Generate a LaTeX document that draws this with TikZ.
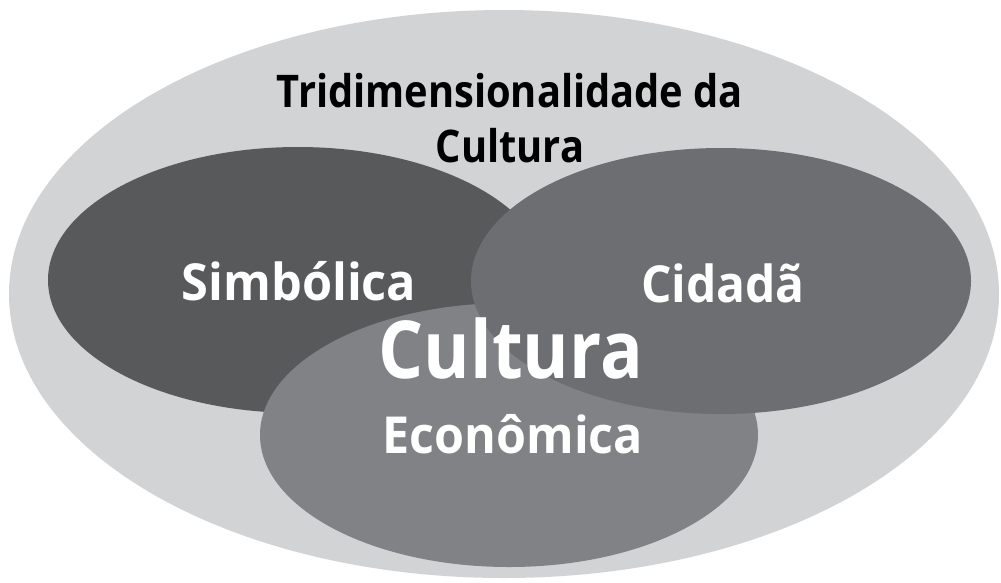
\documentclass[tikz,border=0pt]{standalone}
\usepackage{fontspec}
\setmainfont{Open Sans}
\definecolor{outergray}{HTML}{D1D3D4}
\definecolor{simbgray}{HTML}{58595B}
\definecolor{cidgray}{HTML}{6D6E71}
\definecolor{ecogray}{HTML}{808285}
\newcommand{\hsq}[2]{\scalebox{#1}[1]{#2}}
\begin{document}
\begin{tikzpicture}[x=1pt,y=-1pt,
  lbl/.style={inner sep=0pt, anchor=base, font=\bfseries\fontsize{51}{60}\selectfont, text=white},
  ttl/.style={inner sep=0pt, anchor=base, font=\bfseries\fontsize{45}{55}\selectfont, text=black}]
\useasboundingbox (0,0) rectangle (1001,582);
\fill[outergray] (504,294) ellipse [x radius=495, y radius=284];
\fill[simbgray] (298,280) ellipse [x radius=250, y radius=133];
\fill[ecogray] (509,435) ellipse [x radius=249, y radius=132];
\fill[cidgray] (721,281) ellipse [x radius=250, y radius=133];
\node[ttl] (t1) at (510,107) {\hsq{0.885}{Tridimensionalidade da}};
\node[ttl] (t2) at (510,162) {\hsq{0.885}{Cultura}};
\node[lbl] (simb) at (299,300) {\hsq{0.955}{Simbólica}};
\node[lbl] (cid) at (723,302) {\hsq{0.94}{Cidadã}};
\node[lbl, font=\bfseries\fontsize{80}{90}\selectfont] (cult) at (511,378) {\hsq{0.886}{Cultura}};
\node[lbl] (eco) at (513,453) {\hsq{0.95}{Econômica}};
\end{tikzpicture}
\end{document}
